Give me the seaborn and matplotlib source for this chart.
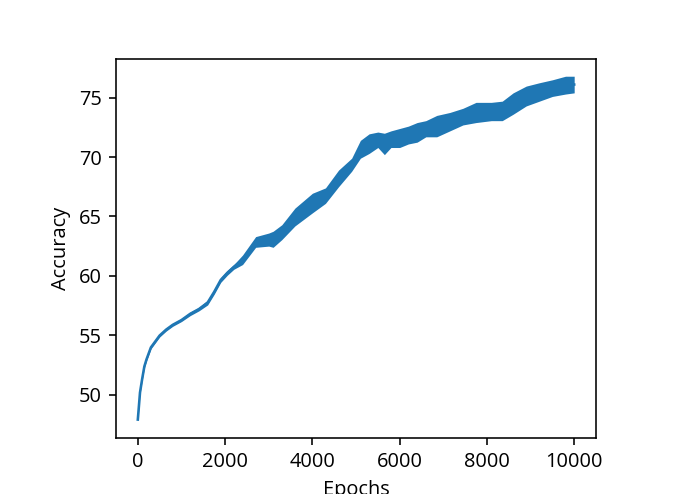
import numpy as np
import pandas as pd
import matplotlib
matplotlib.use("Agg")
import matplotlib.pyplot as plt
import seaborn as sns

# Epoch sample points and the read-off lower / upper envelope of the noisy accuracy curve
epochs = [0, 20, 50, 100, 150, 200, 300, 400, 500, 650, 800, 1000, 1200, 1400,
          1600, 1750, 1900, 2050, 2200, 2400, 2700, 3000, 3100, 3300, 3600, 4000,
          4300, 4600, 4900, 5100, 5300, 5500, 5650, 5800, 6000, 6200, 6400, 6600,
          6850, 7150, 7450, 7750, 8100, 8350, 8600, 8900, 9200, 9500, 9800, 9999]
acc_low = [47.80, 48.70, 50.05, 51.20, 52.25, 52.85, 53.85, 54.35, 54.85, 55.35,
           55.75, 56.15, 56.65, 57.05, 57.55, 58.45, 59.45, 60.05, 60.55, 60.95,
           62.40, 62.50, 62.40, 63.05, 64.20, 65.30, 66.10, 67.50, 68.80, 69.90,
           70.30, 70.80, 70.20, 70.80, 70.80, 71.10, 71.25, 71.70, 71.70, 72.20,
           72.70, 72.90, 73.06, 73.06, 73.60, 74.30, 74.70, 75.10, 75.30, 75.40]
acc_high = [48.00, 48.90, 50.30, 51.45, 52.50, 53.10, 54.10, 54.60, 55.10, 55.60,
            56.00, 56.40, 56.95, 57.35, 57.95, 58.85, 59.85, 60.45, 60.95, 61.75,
            63.30, 63.60, 63.75, 64.30, 65.70, 66.95, 67.40, 68.90, 69.90, 71.40,
            71.95, 72.10, 72.00, 72.20, 72.40, 72.60, 72.90, 73.06, 73.50, 73.75,
            74.10, 74.60, 74.60, 74.70, 75.40, 75.97, 76.25, 76.50, 76.80, 76.80]

df = pd.DataFrame({
    "Epochs": epochs + epochs,
    "Accuracy": acc_low + acc_high,
})

plt.rcParams["font.family"] = ["Open Sans", "DejaVu Sans"]
plt.rcParams["font.size"] = 10

fig = plt.figure(figsize=(695 / 144, 494 / 144), dpi=144)
ax = fig.add_axes([116 / 695, 1 - 438 / 494, 480 / 695, 379 / 494])

color = "#1f77b4"
sns.lineplot(data=df, x="Epochs", y="Accuracy", estimator="mean",
             errorbar=("pi", 100), color=color, linewidth=1.3,
             err_kws={"alpha": 1.0, "linewidth": 0}, ax=ax)

ax.set_xlabel("Epochs")
ax.set_ylabel("Accuracy")
ax.set_xticks([0, 2000, 4000, 6000, 8000, 10000])
ax.set_yticks([50, 55, 60, 65, 70, 75])
ax.margins(x=0.05, y=0.05)

fig.savefig("out.png", dpi=144)
